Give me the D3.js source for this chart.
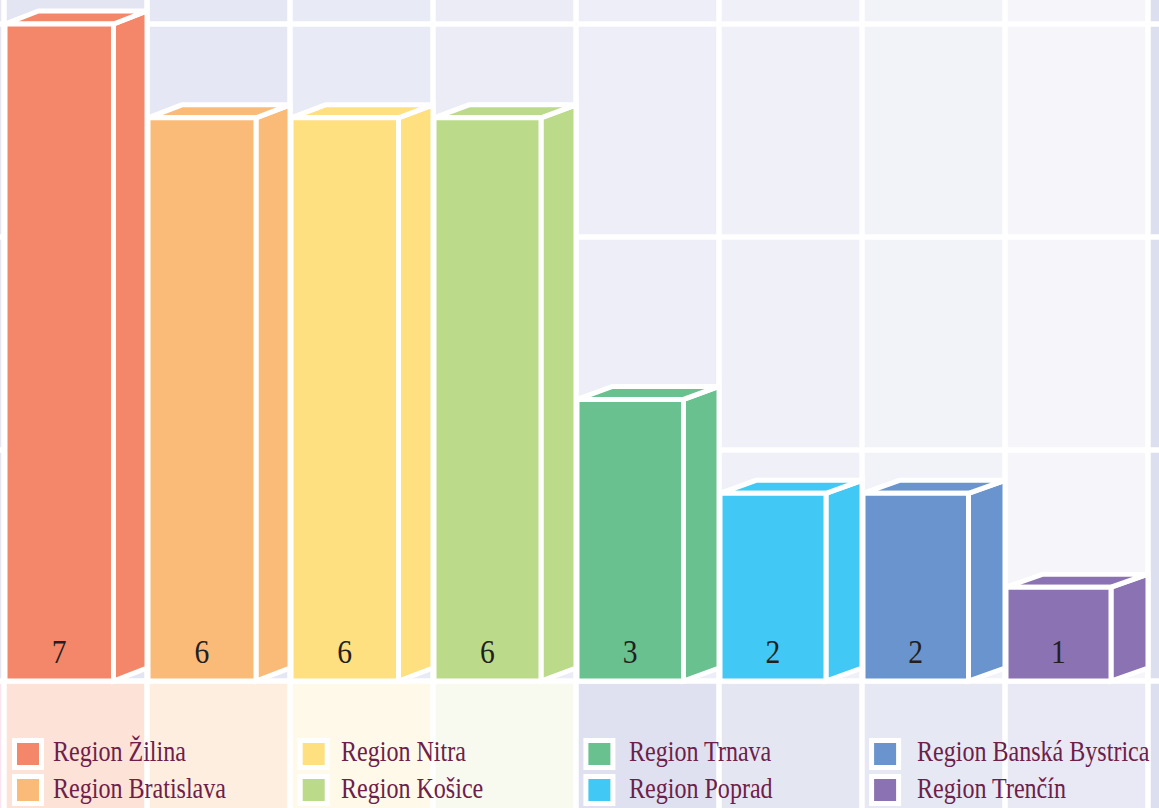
<!DOCTYPE html>
<html>
<head>
<meta charset="utf-8">
<script src="https://cdn.jsdelivr.net/npm/d3@7"></script>
<style>
html,body{margin:0;padding:0;background:#fff;}
svg{display:block;}
</style>
</head>
<body>
<script>
// ---- data ----
const categories = ["Region Žilina","Region Bratislava","Region Nitra","Region Košice","Region Trnava","Region Poprad","Region Banská Bystrica","Region Trenčín"];
const values = [7,6,6,6,3,2,2,1];

// ---- styles ----
const barColors = ["#f4876a","#fbbb78","#fee081","#bcdb8a","#68c18e","#42c8f4","#6994cd","#8b72b2"];
const bottomTints = ["#fde2d7","#feeee0","#fff9ea","#f8faf0","#dfe1f0","#e4e6f2","#e6e8f3","#e8e9f4"];
const topShade = d3.interpolateRgb("#e3e5f3","#f5f5fa");

const W = 1159, H = 808;
const svg = d3.select("body").append("svg").attr("width",W).attr("height",H);

const x = d3.scaleBand().domain(categories).range([4,1148]).paddingInner(0).paddingOuter(0);
const y = d3.scaleLinear().domain([0,7]).range([681,24]);
const gridY = d3.scaleLinear().domain([0,3]).range([24,663]);
const bw = x.bandwidth();
const baseY = y(0);

// background
svg.append("rect").attr("width",W).attr("height",H).attr("fill","#fff");
svg.append("rect").attr("x",1148).attr("y",0).attr("width",W-1148).attr("height",H).attr("fill","#dcdff0");
svg.append("rect").attr("x",0).attr("y",0).attr("width",4).attr("height",baseY).attr("fill","#e6e6f3");
svg.append("rect").attr("x",0).attr("y",baseY).attr("width",4).attr("height",H-baseY).attr("fill","#fbe4ee");

const cols = svg.append("g");
categories.forEach((c,i)=>{
  cols.append("rect").attr("x",x(c)).attr("y",0).attr("width",bw).attr("height",baseY)
    .attr("fill",topShade(i/(categories.length-1)));
  cols.append("rect").attr("x",x(c)).attr("y",baseY).attr("width",bw).attr("height",H-baseY)
    .attr("fill",bottomTints[i]);
});

// white grid
const grid = svg.append("g").attr("stroke","#fff").attr("stroke-width",5.5);
const vx = categories.map(c=>x(c)).concat([x(categories[categories.length-1])+bw]);
vx.forEach(v=>grid.append("line").attr("x1",v).attr("x2",v).attr("y1",0).attr("y2",H));
[0,1,2].map(gridY).concat([baseY]).forEach(v=>grid.append("line").attr("x1",0).attr("x2",W).attr("y1",v).attr("y2",v));

// 3D bars
const dy = 13;
const bars = svg.append("g");
categories.forEach((c,i)=>{
  const dx = 33.5 + 0.5*i;
  const xl = x(c) + 1;
  const xr = x(c) + bw - dx;
  const top = y(values[i]);
  const g = bars.append("g").attr("fill",barColors[i]).attr("stroke","#fff")
    .attr("stroke-width",5).attr("stroke-linejoin","miter");
  const pts = a=>a.map(p=>p.join(",")).join(" ");
  g.append("polygon").attr("points",pts([[xr,top],[xr+dx,top-dy],[xr+dx,baseY-dy],[xr,baseY]]));
  g.append("polygon").attr("points",pts([[xl,top],[xl+dx,top-dy],[xr+dx,top-dy],[xr,top]]));
  g.append("polygon").attr("points",pts([[xl,top],[xr,top],[xr,baseY],[xl,baseY]]));
  bars.append("text")
    .attr("transform",`translate(${(xl+xr)/2},663) scale(0.87,1)`)
    .attr("text-anchor","middle")
    .attr("font-family","'Liberation Serif','DejaVu Serif',serif")
    .attr("font-size",34)
    .attr("fill","#231f20")
    .text(values[i]);
});

// legend
const lg = svg.append("g");
categories.forEach((c,i)=>{
  const col = Math.floor(i/2), row = i%2;
  lg.append("rect").attr("x",14.5+285.7*col).attr("y",740.5+36*row).attr("width",27).attr("height",27)
    .attr("fill",barColors[i]).attr("stroke","#fff").attr("stroke-width",5);
  lg.append("text")
    .attr("transform",`translate(${53+288*col},${761+37*row}) scale(0.83,1)`)
    .attr("font-family","'Liberation Serif','DejaVu Serif',serif")
    .attr("font-size",29)
    .attr("fill","#6d2049")
    .text(c);
});
</script>
</body>
</html>
